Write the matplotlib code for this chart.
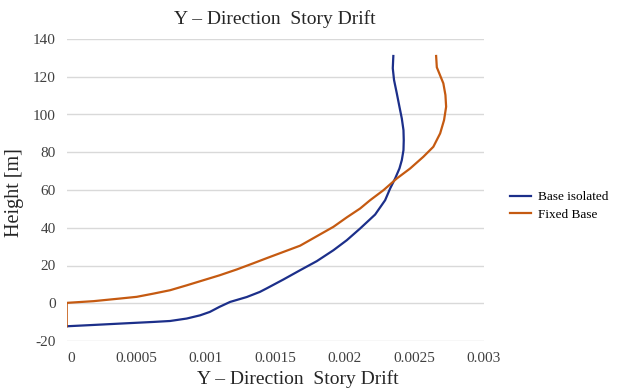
import matplotlib
matplotlib.use("Agg")
import matplotlib.pyplot as plt
import matplotlib.transforms as mtransforms

# story drift profiles (drift ratio vs. height)
iso_drift = [0, 0.000192, 0.000432, 0.000624, 0.000744, 0.000864, 0.00096,
             0.00103, 0.00110, 0.001176, 0.001296, 0.00139, 0.00144, 0.00156,
             0.00168, 0.00180, 0.00192, 0.002016, 0.002112, 0.00222, 0.002292,
             0.002328, 0.002364, 0.002395, 0.002412, 0.002424, 0.002426,
             0.002424, 0.002412, 0.002395, 0.002376, 0.002356, 0.002347,
             0.002351]
iso_height = [-12.2, -11.5, -10.6, -9.9, -9.4, -8.1, -6.4,
              -4.6, -1.9, 0.7, 3.3, 6.0, 7.9, 12.6,
              17.5, 22.3, 28.1, 33.4, 39.6, 47.0, 54.6,
              60.8, 66.1, 71.4, 75.8, 81.1, 86.4,
              91.7, 97.9, 104.1, 111.2, 118.3, 124.5,
              131.0]

fix_drift = [0, 0, 0.000192, 0.000384, 0.000504, 0.000624, 0.000744,
             0.000864, 0.000984, 0.00110, 0.001224, 0.001344, 0.00144,
             0.00168, 0.00180, 0.00192, 0.002016, 0.002112, 0.002184,
             0.00228, 0.002376, 0.002472, 0.002567, 0.002639, 0.002688,
             0.002716, 0.002731, 0.002726, 0.002711, 0.002685, 0.002664,
             0.002659]
fix_height = [-12.2, 0.2, 1.1, 2.5, 3.4, 5.1, 6.9,
              9.5, 12.2, 14.8, 17.9, 21.2, 23.9,
              30.5, 35.5, 40.5, 45.5, 50.2, 54.6,
              59.9, 66.1, 71.4, 77.6, 82.9, 90.0,
              97.0, 104.1, 110.3, 116.5, 121.2, 125.0,
              131.0]

x_ticks = [0, 0.0005, 0.001, 0.0015, 0.002, 0.0025, 0.003]
x_tick_labels = ["0", "0.0005", "0.001", "0.0015", "0.002", "0.0025", "0.003"]
y_ticks = [-20, 0, 20, 40, 60, 80, 100, 120, 140]

plt.rcParams["font.family"] = ["Liberation Serif", "DejaVu Serif"]
plt.rcParams["axes.unicode_minus"] = False

fig = plt.figure(figsize=(6.26, 3.90), dpi=100, facecolor="white")
ax = fig.add_axes([66.7 / 626, 1 - 341 / 390, (483.5 - 66.7) / 626, (341 - 39) / 390])

ax.plot(iso_drift, iso_height, color="#1c2f8a", lw=1.6, label="Base isolated",
        solid_joinstyle="round")
ax.plot(fix_drift, fix_height, color="#c55a11", lw=1.6, label="Fixed Base",
        solid_joinstyle="round")

ax.set_xlim(0, 0.003)
ax.set_ylim(-20, 140)
ax.set_xticks(x_ticks)
ax.set_xticklabels(x_tick_labels)
ax.set_yticks(y_ticks)
ax.tick_params(axis="both", length=0, labelsize=11, colors="#404040")
ax.tick_params(axis="x", pad=8)
ax.tick_params(axis="y", pad=8)

ax.grid(axis="y", color="#d9d9d9", lw=1)
ax.set_axisbelow(True)
for spine in ax.spines.values():
    spine.set_visible(False)

# first x label sits slightly inside the plot area
lbl0 = ax.get_xticklabels()[0]
lbl0.set_transform(lbl0.get_transform() +
                   mtransforms.ScaledTranslation(4 / 100, 0, fig.dpi_scale_trans))

ax.set_title("Y \u2013 Direction  Story Drift", fontsize=14, color="#262626", pad=11)
ax.set_xlabel("Y \u2013 Direction  Story Drift", fontsize=14, color="#262626")
ax.xaxis.set_label_coords((298 - 66.7) / (483.5 - 66.7), -0.095)
ax.set_ylabel("Height [m]", fontsize=14.5, color="#262626")
ax.yaxis.set_label_coords(-(66.7 - 24) / (483.5 - 66.7), 0.49)

fig.legend(loc="upper left", bbox_to_anchor=(510 / 626, 1 - 191 / 390),
           frameon=False, fontsize=9.5, handlelength=1.6, handletextpad=0.55,
           labelspacing=0.4, borderpad=0, borderaxespad=0)

fig.savefig("out.png", dpi=100, facecolor="white")
